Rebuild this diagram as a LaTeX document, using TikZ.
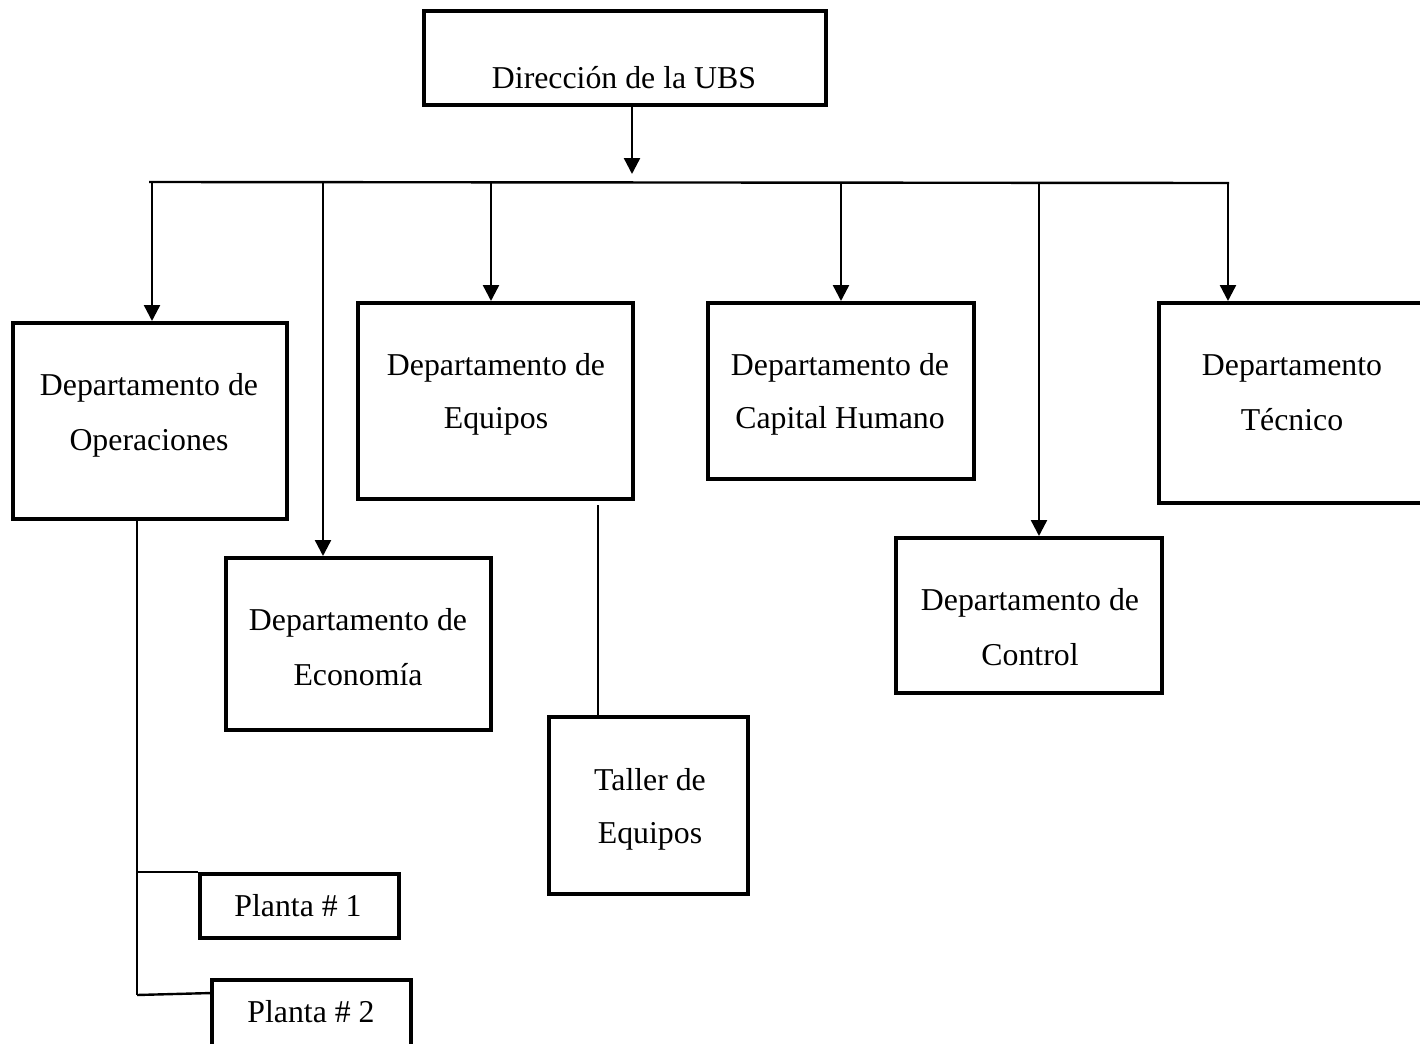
\documentclass[tikz,border=0pt]{standalone}
\usepackage{fontspec}
\setmainfont{Liberation Serif}
\usetikzlibrary{arrows.meta}
\begin{document}
\begin{tikzpicture}[x=0.5pt,y=-0.5pt,
  box/.style={draw, rectangle, line width=2pt, inner sep=0pt},
  lbl/.style={anchor=base, inner sep=0pt, font=\fontsize{15.9}{27.5}\selectfont},
  wire/.style={line width=1.2pt},
  arr/.style={line width=1.2pt, -{Triangle[length=8pt,width=8pt]}}]
\useasboundingbox (0,0) rectangle (1420,1044);
\clip (0,0) rectangle (1420,1044);

% boxes
\node[box, minimum width=201pt,   minimum height=47pt]   (dir) at (625,58)      {};
\node[box, minimum width=137pt,   minimum height=98pt]   (ope) at (150,421)     {};
\node[box, minimum width=137.5pt, minimum height=98pt]   (equ) at (495.5,401)   {};
\node[box, minimum width=133pt,   minimum height=88pt]   (cap) at (841,391)     {};
\node[box, minimum width=140.5pt, minimum height=100pt]  (tec) at (1299.5,403)  {};
\node[box, minimum width=132.5pt, minimum height=86pt]   (eco) at (358.5,644)   {};
\node[box, minimum width=133pt,   minimum height=77.5pt] (con) at (1029,615.5)  {};
\node[box, minimum width=99.5pt,  minimum height=88.5pt] (tal) at (648.5,805.5) {};
\node[box, minimum width=99.5pt,  minimum height=32pt]   (pl1) at (299.5,906)   {};
\node[box, minimum width=99.5pt,  minimum height=40pt]   (pl2) at (311.5,1020)  {};

% labels
\node[lbl] (tdir)  at (624,88)   {Dirección de la UBS};
\node[lbl] (tope1) at (149,395)  {Departamento de};
\node[lbl] (tope2) at (149,450)  {Operaciones};
\node[lbl] (tequ1) at (496,375)  {Departamento de};
\node[lbl] (tequ2) at (496,428)  {Equipos};
\node[lbl] (tcap1) at (840,375)  {Departamento de};
\node[lbl] (tcap2) at (840,428)  {Capital Humano};
\node[lbl] (ttec1) at (1292,375) {Departamento};
\node[lbl] (ttec2) at (1292,430) {Técnico};
\node[lbl] (teco1) at (358,630)  {Departamento de};
\node[lbl] (teco2) at (358,685)  {Economía};
\node[lbl] (tcon1) at (1030,610) {Departamento de};
\node[lbl] (tcon2) at (1030,665) {Control};
\node[lbl] (ttal1) at (650,790)  {Taller de};
\node[lbl] (ttal2) at (650,843)  {Equipos};
\node[lbl] (tpl1)  at (298,916)  {Planta \# 1};
\node[lbl] (tpl2)  at (311,1022) {Planta \# 2};

% distribution bus under the direction
\coordinate (a0)   at (632,174);
\coordinate (busL) at (149,182);
\coordinate (busR) at (1229,183);
\draw[arr] (a0 |- dir.south) -- (a0);
\draw[wire] (busL) -- (busR);

% drops from the bus to each department
\coordinate (k1) at (152,182);
\coordinate (k2) at (323,182);
\coordinate (k3) at (491,183);
\coordinate (k4) at (841,183);
\coordinate (k5) at (1039,183);
\coordinate (k6) at (1228,183);
\draw[arr] (k1) -- (k1 |- ope.north);
\draw[arr] (k2) -- (k2 |- eco.north);
\draw[arr] (k3) -- (k3 |- equ.north);
\draw[arr] (k4) -- (k4 |- cap.north);
\draw[arr] (k5) -- (k5 |- con.north);
\draw[arr] (k6) -- (k6 |- tec.north);

% equipment workshop
\coordinate (k7) at (598,505);
\draw[wire] (k7) -- (k7 |- tal.north);

% plants under operations
\coordinate (t0) at (137,0);
\coordinate (t2) at (137,995);
\coordinate (p2) at (212,993);
\draw[wire] (t0 |- ope.south) -- (t2);
\draw[wire] (t0 |- pl1.north) -- (pl1.north west);
\draw[wire] (t2) -- (p2);
\end{tikzpicture}
\end{document}
